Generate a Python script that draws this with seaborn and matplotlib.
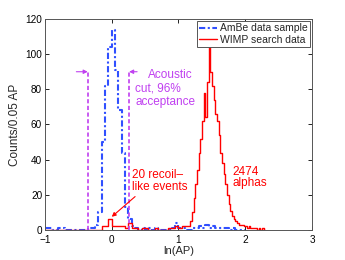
import numpy as np
import pandas as pd
import matplotlib
matplotlib.use("Agg")
import matplotlib.pyplot as plt
import seaborn as sns

# ---- data (counts per 0.05 in ln(AP)) ----
ambe_left = np.round(np.arange(-1.0, 2.0, 0.05), 3)
ambe_counts = [1, 1, 0, 0, 1, 1, 0, 0, 0, 0,
               0, 0, 0, 1, 1, 3, 10, 50, 82, 104,
               114, 91, 68, 44, 13, 6, 2, 1, 0, 1,
               0, 1, 0, 1, 0, 0, 0, 0, 1, 4,
               1, 1, 0, 0, 1, 1, 2, 1, 3, 1,
               2, 1, 1, 1, 1, 0, 1, 0, 0, 0]

wimp_low_left = np.round(np.arange(-1.0, 1.15, 0.05), 3)
wimp_low_counts = [0, 0, 0, 0, 0, 0, 0, 0, 0, 0,
                   0, 0, 0, 0, 0, 0, 0, 2, 2, 6,
                   2, 2, 2, 2, 1, 4, 1, 1, 0, 1,
                   1, 0, 0, 1, 0, 0, 0, 1, 1, 2,
                   1, 2, 2]
wimp_high_left = np.round(np.arange(1.15, 2.3, 0.025), 3)
wimp_high_counts = [2, 5, 10, 18, 26, 34, 44, 52, 62, 78,
                    64, 84, 108, 90, 82, 74, 66, 62, 54, 44,
                    38, 32, 26, 20, 15, 11, 8, 6, 5, 4,
                    3, 3, 3, 2, 2, 1, 2, 1, 1, 1,
                    1, 0, 1, 0, 1, 0]

cut_lo, cut_hi = -0.36, 0.26

# ---- style ----
sns.set_style("ticks", {"xtick.direction": "in", "ytick.direction": "in",
                        "axes.edgecolor": "#555555"})
plt.rcParams["font.family"] = ["Liberation Sans", "DejaVu Sans"]
plt.rcParams["font.size"] = 7.5

fig = plt.figure(figsize=(3.45, 2.6), dpi=100)
ax = fig.add_axes([0.1304, 0.1154, 0.7739, 0.8116])

ambe_edges = [float(v) for v in np.append(ambe_left, 2.0)]
ambe_df = pd.DataFrame({"x": ambe_left + 0.025, "w": ambe_counts})
sns.histplot(data=ambe_df, x="x", weights="w", bins=ambe_edges, element="step",
             fill=False, color="#3050ff", linewidth=1.5, linestyle=(0, (3, 1.2, 1, 1.2)),
             label="AmBe data sample", ax=ax)

wimp_edges = [float(v) for v in np.concatenate([wimp_low_left, wimp_high_left, [2.3]])]
wimp_x = np.concatenate([wimp_low_left + 0.025, wimp_high_left + 0.0125])
wimp_df = pd.DataFrame({"x": wimp_x, "w": list(wimp_low_counts) + list(wimp_high_counts)})
sns.histplot(data=wimp_df, x="x", weights="w", bins=wimp_edges, element="step",
             fill=False, color="#ff0000", linewidth=1.0,
             label="WIMP search data", ax=ax)

purple = "#c040f0"
for c in (cut_lo, cut_hi):
    ax.plot([c, c], [0, 90], color=purple, linestyle=(0, (2.5, 1.5)), linewidth=1.2)
ax.annotate("", xy=(cut_lo, 90), xytext=(cut_lo - 0.17, 90),
            arrowprops=dict(arrowstyle="-|>", color=purple, lw=0.8,
                            mutation_scale=6, shrinkA=0, shrinkB=0))
ax.annotate("", xy=(cut_hi, 90), xytext=(cut_hi + 0.12, 90),
            arrowprops=dict(arrowstyle="-|>", color=purple, lw=0.8,
                            mutation_scale=6, shrinkA=0, shrinkB=0))
fs = 8.5
ax.text(0.55, 88, "Acoustic", color=purple, ha="left", va="center", fontsize=fs)
ax.text(0.35, 80.5, "cut, 96%", color=purple, ha="left", va="center", fontsize=fs)
ax.text(0.35, 73, "acceptance", color=purple, ha="left", va="center", fontsize=fs)

ax.text(0.31, 31.3, "20 recoil\u2013", color="#ff0000", ha="left", va="center", fontsize=fs)
ax.text(0.31, 24.3, "like events", color="#ff0000", ha="left", va="center", fontsize=fs)
ax.annotate("", xy=(0.0, 7.5), xytext=(0.35, 19),
            arrowprops=dict(arrowstyle="-|>", color="#ff0000", lw=0.8,
                            mutation_scale=6, shrinkA=0, shrinkB=0))
ax.text(1.81, 33, "2474", color="#ff0000", ha="left", va="center", fontsize=fs)
ax.text(1.81, 26.5, "alphas", color="#ff0000", ha="left", va="center", fontsize=fs)

ax.set_xlim(-1, 3)
ax.set_ylim(0, 120)
ax.set_xticks([-1, 0, 1, 2, 3])
ax.set_xticklabels(["\u22121", "0", "1", "2", "3"])
ax.set_yticks(np.arange(0, 121, 20))
ax.tick_params(top=True, right=True, length=3, width=0.6, colors="black",
               labelsize=7.2)
ax.tick_params(axis="y", pad=2)
ax.tick_params(axis="x", pad=3.5)
for s in ax.spines.values():
    s.set_linewidth(0.7)
    s.set_color("#555555")
ax.set_xlabel("ln(AP)", fontsize=8, labelpad=1)
ax.set_ylabel("Counts/0.05 AP", fontsize=8.5, labelpad=3)

leg = ax.legend(loc="upper right", fontsize=7.5, frameon=True, fancybox=False,
                edgecolor="#555555", framealpha=1, borderpad=0.25, handlelength=1.7,
                handletextpad=0.3, labelspacing=0.15, borderaxespad=0.15)
leg.get_frame().set_linewidth(0.7)

fig.savefig("out.png", dpi=100)
